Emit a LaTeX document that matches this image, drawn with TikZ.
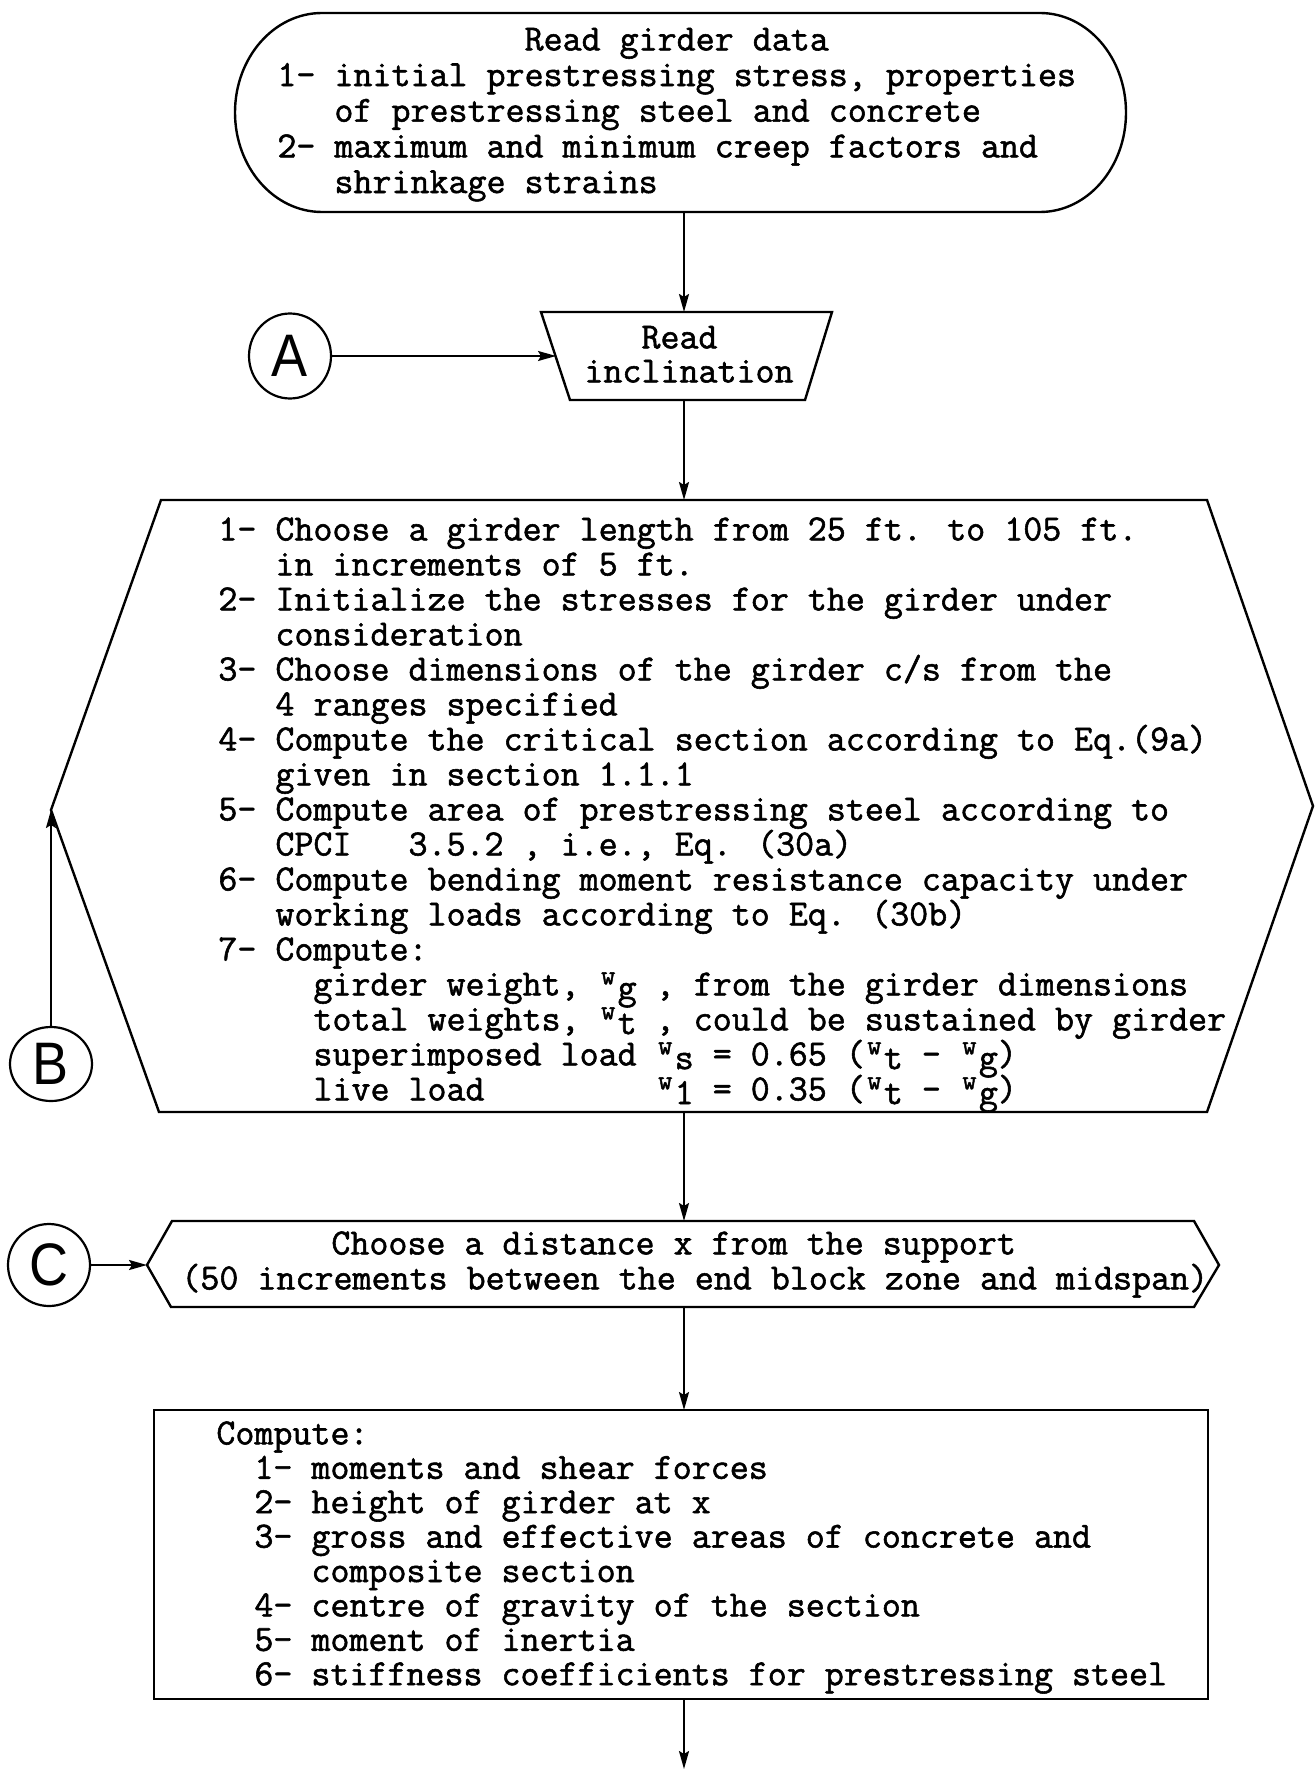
\documentclass[tikz,border=0pt]{standalone}
\usepackage{fontspec}
\usepackage{graphicx}
\usetikzlibrary{shapes.geometric,arrows.meta}
\newfontfamily\tw{Latin Modern Mono}[FakeBold=1.5]
\newfontfamily\lettr{Liberation Sans}
\newcommand\cw[1]{\hspace*{\dimexpr\fontcharwd\font`\0*#1\relax}}
\newcommand\wsb[1]{\makebox[\fontcharwd\font`\0][c]{\raisebox{0.3em}{\scalebox{0.75}{w}}}\raisebox{-0.1em}{#1}}
\newcommand\nolsl{\lineskiplimit-100pt\relax}
\tikzset{
  shapeline/.style={line width=1.2pt},
  conn/.style={line width=1pt,-{Stealth[length=9pt,width=5pt,inset=1.5pt]}},
  txt/.style={anchor=north west,inner sep=0pt,align=left,
    font=\tw\fontsize{18.46pt}{#1}\selectfont\nolsl},
  conncirc/.style={ellipse,draw,line width=1.1pt,inner sep=0pt,
    font=\lettr\fontsize{30pt}{30pt}\selectfont},
}
\begin{document}
\begin{tikzpicture}[x=0.5pt,y=-0.5pt]
\useasboundingbox (0,0) rectangle (1314,1770);
\fill[white] (0,0) rectangle (1314,1770);

% --- terminator: read girder data
\draw[shapeline] (322,13) -- (1040,13)
  arc[start angle=-90,end angle=90,x radius=86,y radius=99.5]
  -- (322,212)
  arc[start angle=90,end angle=270,x radius=87,y radius=99.5] -- cycle;
\coordinate (termB) at (684,212);
\node[txt=17.83pt] (t1) at (277,20) {\rule{0pt}{15pt}\cw{13}Read girder data\\
1- initial prestressing stress, properties\\
\cw{3}of prestressing steel and concrete\\
2- maximum and minimum creep factors and\\
\cw{3}shrinkage strains};

% --- trapezoid: read inclination
\draw[shapeline] (541,312) -- (832,312) -- (805,400) -- (570,400) -- cycle;
\coordinate (trapT) at (684,312);
\coordinate (trapB) at (684,400);
\coordinate (trapL) at (556,356);
\node[txt=17pt] (t2) at (584,318) {\rule{0pt}{15pt}\cw{3}Read\\inclination};

% --- hexagon
\draw[shapeline] (161,500) -- (1207,500) -- (1313,806) -- (1207,1112)
  -- (159,1112) -- (51,810) -- cycle;
\coordinate (hexT) at (684,500);
\coordinate (hexB) at (684,1112);
\coordinate (hexL) at (51,810);
\node[txt=17.5pt] (t3) at (218,510) {\rule{0pt}{15pt}1- Choose a girder length from 25 ft. to 105 ft.\\
\cw{3}in increments of 5 ft.\\
2- Initialize the stresses for the girder under\\
\cw{3}consideration\\
3- Choose dimensions of the girder c/s from the\\
\cw{3}4 ranges specified\\
4- Compute the critical section according to Eq.(9a)\\
\cw{3}given in section 1.1.1\\
5- Compute area of prestressing steel according to\\
\cw{3}CPCI\ \ \ 3.5.2 , i.e., Eq. (30a)\\
6- Compute bending moment resistance capacity under\\
\cw{3}working loads according to Eq. (30b)\\
7- Compute:\\
\cw{5}girder weight, \wsb{g} , from the girder dimensions\\
\cw{5}total weights, \wsb{t} , could be sustained by girder\\
\cw{5}superimposed load \wsb{s} = 0.65 (\wsb{t} - \wsb{g})\\
\cw{5}live load\cw{9}\wsb{1} = 0.35 (\wsb{t} - \wsb{g})};

% --- distance box
\draw[shapeline] (172,1221) -- (1194,1221) -- (1219,1265) -- (1194,1307)
  -- (171,1307) -- (147,1265) -- cycle;
\coordinate (cT) at (684,1221);
\coordinate (cB) at (684,1307);
\coordinate (cL) at (147,1265);
\node[txt=17.5pt] (t4) at (181,1224) {\rule{0pt}{15pt}\hspace*{75pt}Choose a distance x from the support\\
(50 increments between the end block zone and midspan)};

% --- compute box
\draw[shapeline] (154,1410) rectangle (1208,1699);
\coordinate (compT) at (684,1410);
\coordinate (compB) at (684,1699);
\coordinate (endpt) at (684,1769);
\node[txt=17.2pt] (t5) at (216,1414) {\rule{0pt}{15pt}Compute:\\
\cw{2}1- moments and shear forces\\
\cw{2}2- height of girder at x\\
\cw{2}3- gross and effective areas of concrete and\\
\cw{5}composite section\\
\cw{2}4- centre of gravity of the section\\
\cw{2}5- moment of inertia\\
\cw{2}6- stiffness coefficients for prestressing steel};

% --- connector circles
\node[conncirc,minimum width=41pt,minimum height=42.5pt] (A) at (290,356) {\scalebox{0.9}[1]{A}};
\node[conncirc,minimum width=41pt,minimum height=37pt] (B) at (51,1064) {\scalebox{0.9}[1]{B}};
\node[conncirc,minimum width=41pt,minimum height=41pt] (C) at (49,1265) {\scalebox{0.9}[1]{C}};

% --- connectors
\draw[conn] (termB) -- (trapT);
\draw[conn] (A) -- (trapL);
\draw[conn] (trapB) -- (hexT);
\draw[conn] (B) -- (hexL);
\draw[conn] (hexB) -- (cT);
\draw[conn] (C) -- (cL);
\draw[conn] (cB) -- (compT);
\draw[conn] (compB) -- (endpt);
\end{tikzpicture}
\end{document}
